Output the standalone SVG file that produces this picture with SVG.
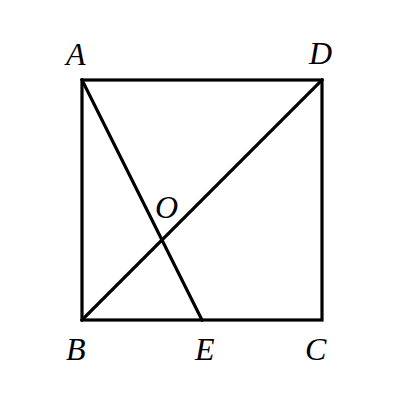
<svg xmlns="http://www.w3.org/2000/svg" width="420" height="410" viewBox="0 0 420 410">
<style>
.l{stroke:#000;stroke-width:3.2;fill:none;stroke-linecap:square;stroke-linejoin:miter}
.t{font-family:"Liberation Serif",serif;font-style:italic;font-size:32px;fill:#000}
</style>
<rect width="420" height="410" fill="#fff"/>
<g id="connectors">
<rect class="l" x="82" y="80" width="240" height="240"/>
<line class="l" x1="82" y1="80" x2="202" y2="320"/>
<line class="l" x1="82" y1="320" x2="322" y2="80"/>
</g>
<g id="A"><text class="t" x="66" y="65">A</text></g>
<g id="D"><text class="t" x="309" y="64">D</text></g>
<g id="B"><text class="t" x="66" y="360">B</text></g>
<g id="E"><text class="t" x="195" y="360">E</text></g>
<g id="C"><text class="t" x="305" y="360">C</text></g>
<g id="O"><text class="t" x="155" y="218">O</text></g>
</svg>
